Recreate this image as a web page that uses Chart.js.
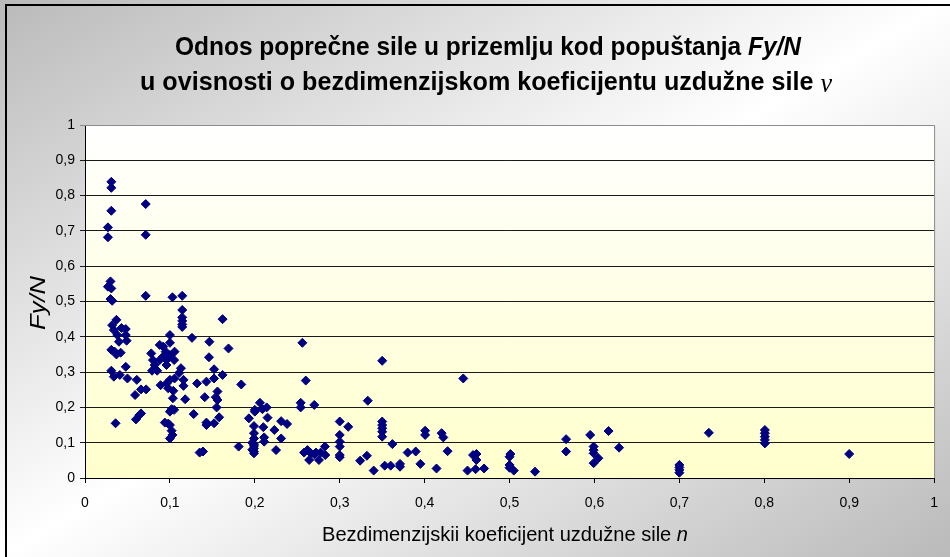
<!DOCTYPE html>
<html>
<head>
<meta charset="utf-8">
<script src="https://cdn.jsdelivr.net/npm/chart.js@4.4.1/dist/chart.umd.min.js"></script>
<style>
  html, body { margin: 0; padding: 0; background: #fff; }
  #wrap { width: 950px; height: 557px; }
</style>
</head>
<body>
<div id="wrap"><canvas id="c" width="950" height="557"></canvas></div>
<script>
// ---- data: [n, Fy/N] ----
const pointsLowN = [
  [0.031,0.839],[0.031,0.822],[0.031,0.757],[0.027,0.710],[0.027,0.682],[0.030,0.557],[0.027,0.542],[0.031,0.537],[0.030,0.507],[0.032,0.502],
  [0.037,0.448],[0.032,0.433],[0.034,0.419],[0.043,0.425],[0.048,0.422],[0.038,0.405],[0.040,0.386],[0.048,0.405],[0.049,0.389],[0.031,0.363],
  [0.035,0.358],[0.037,0.350],[0.042,0.355],[0.031,0.304],[0.034,0.287],[0.041,0.292],[0.048,0.315],[0.050,0.282],[0.036,0.155],[0.061,0.278],
  [0.059,0.235],[0.066,0.251],[0.072,0.251],[0.060,0.166],[0.066,0.183],[0.064,0.178],[0.0715,0.776],[0.0715,0.689],[0.0715,0.516]
];
const pointsMidLowN = [
  [0.078,0.353],[0.080,0.334],[0.082,0.320],[0.079,0.304],[0.085,0.304],[0.088,0.377],[0.092,0.372],[0.095,0.358],[0.092,0.344],[0.088,0.334],
  [0.096,0.334],[0.100,0.405],[0.100,0.383],[0.100,0.348],[0.1055,0.358],[0.105,0.334],[0.096,0.320],[0.089,0.263],[0.096,0.268],[0.100,0.278],
  [0.1055,0.282],[0.098,0.254],[0.104,0.247],[0.1035,0.226],[0.102,0.195],[0.105,0.193],[0.100,0.188],[0.094,0.157],[0.098,0.154],[0.100,0.150],
  [0.102,0.134],[0.103,0.122],[0.100,0.112],[0.103,0.512],[0.1145,0.516],[0.1145,0.476],[0.1145,0.455],[0.1145,0.445],[0.1145,0.435],[0.1145,0.428],
  [0.113,0.311],[0.111,0.298],[0.116,0.278],[0.116,0.261],[0.118,0.223],[0.126,0.397],[0.128,0.181],[0.132,0.268],[0.135,0.072],[0.139,0.075],
  [0.141,0.229],[0.143,0.273],[0.143,0.157],[0.143,0.150],[0.1465,0.386],[0.146,0.342],[0.152,0.308],[0.152,0.282],[0.154,0.229],[0.156,0.245],
  [0.156,0.221],[0.155,0.200],[0.152,0.155],[0.158,0.172],[0.162,0.450],[0.162,0.292],[0.169,0.367],[0.184,0.265],[0.181,0.089],[0.193,0.169],[0.200,0.188]
];
const pointsMidN = [
  [0.199,0.147],[0.199,0.127],[0.199,0.112],[0.199,0.096],[0.199,0.091],[0.199,0.084],[0.199,0.075],[0.199,0.070],[0.197,0.100],[0.197,0.080],
  [0.200,0.193],[0.206,0.213],[0.209,0.195],[0.214,0.200],[0.215,0.171],[0.210,0.144],[0.211,0.115],[0.211,0.103],[0.223,0.136],[0.225,0.079],
  [0.231,0.161],[0.238,0.153],[0.231,0.112],[0.256,0.383],[0.260,0.276],[0.254,0.213],[0.254,0.200],[0.270,0.207],
  [0.258,0.072],[0.262,0.079],[0.264,0.051],[0.266,0.070],[0.270,0.067],[0.272,0.072],[0.2755,0.051],[0.2775,0.072],[0.2825,0.089],[0.283,0.065],
  [0.300,0.160],[0.300,0.122],[0.300,0.103],[0.300,0.089],[0.300,0.065],[0.300,0.059],[0.310,0.145],[0.333,0.219],[0.324,0.049],[0.332,0.063],[0.340,0.021]
];
const pointsHighN = [
  [0.350,0.332],[0.350,0.160],[0.350,0.150],[0.350,0.141],[0.350,0.131],[0.350,0.117],[0.362,0.096],[0.353,0.035],[0.360,0.035],[0.371,0.040],[0.371,0.032],
  [0.380,0.072],[0.3895,0.075],[0.395,0.040],[0.4006,0.134],[0.4006,0.122],[0.414,0.027],[0.420,0.127],[0.422,0.115],[0.427,0.076],[0.4455,0.282],
  [0.457,0.065],[0.461,0.068],[0.461,0.051],[0.4505,0.021],[0.460,0.025],[0.470,0.027],
  [0.501,0.068],[0.500,0.060],[0.500,0.037],[0.500,0.029],[0.505,0.021],[0.530,0.018],[0.5666,0.110],[0.5666,0.075],[0.595,0.122],
  [0.599,0.089],[0.599,0.079],[0.599,0.070],[0.6046,0.056],[0.599,0.042],[0.6166,0.133],[0.629,0.086],
  [0.700,0.037],[0.700,0.030],[0.700,0.023],[0.700,0.015],[0.7347,0.128],[0.8007,0.136],[0.8007,0.127],[0.8007,0.117],[0.8007,0.108],[0.8007,0.098],[0.900,0.068]
];
const xTickLabels = ['0','0,1','0,2','0,3','0,4','0,5','0,6','0,7','0,8','0,9','1'];
const yTickLabels = ['0','0,1','0,2','0,3','0,4','0,5','0,6','0,7','0,8','0,9','1'];
const titleLine1 = ['Odnos poprečne sile u prizemlju kod popuštanja ', 'Fy/N'];
const titleLine2 = ['u ovisnosti o bezdimenzijskom koeficijentu uzdužne sile ', 'ν'];
const xAxisTitle = ['Bezdimenzijskii koeficijent uzdužne sile ', 'n'];
const yAxisTitle = 'Fy/N';

const allPoints = [].concat(pointsLowN, pointsMidLowN, pointsMidN, pointsHighN).map(p => ({x: p[0], y: p[1]}));

function drawFitted(ctx, segs, cx, baseline, targetW) {
  let total = 0;
  segs.forEach(s => { ctx.font = s.font; s.w = ctx.measureText(s.text).width; total += s.w; });
  const sx = targetW / total;
  ctx.save();
  ctx.translate(cx - targetW / 2, baseline);
  ctx.scale(sx, 1);
  let x = 0;
  ctx.fillStyle = '#000';
  ctx.textBaseline = 'alphabetic';
  ctx.textAlign = 'left';
  segs.forEach(s => { ctx.font = s.font; ctx.fillText(s.text, x + (s.dx || 0), s.dy || 0); x += s.w; });
  ctx.restore();
}

const decor = {
  id: 'decor',
  beforeDraw(chart) {
    const ctx = chart.ctx, W = chart.width, H = chart.height, a = chart.chartArea;
    ctx.save();
    ctx.setTransform(W, 0, 0, H, 0, 0);
    const g = ctx.createLinearGradient(0, 0, 1, 1);
    g.addColorStop(0, '#bababa');
    g.addColorStop(0.5, '#ffffff');
    g.addColorStop(1, '#bababa');
    ctx.fillStyle = g;
    ctx.fillRect(0, 0, 1, 1);
    ctx.restore();
    ctx.save();
    const pg = ctx.createLinearGradient(0, a.top, 0, a.bottom);
    pg.addColorStop(0, '#ffffff');
    pg.addColorStop(1, '#ffffcc');
    ctx.fillStyle = pg;
    ctx.fillRect(a.left, a.top, a.right - a.left, a.bottom - a.top);
    ctx.strokeStyle = '#000';
    ctx.lineWidth = 2;
    ctx.beginPath();
    ctx.moveTo(6, H + 2); ctx.lineTo(6, 5); ctx.lineTo(W + 2, 5);
    ctx.stroke();
    ctx.restore();
  },
  afterDraw(chart) {
    const ctx = chart.ctx, a = chart.chartArea;
    ctx.save();
    ctx.strokeStyle = '#8c8c8c';
    ctx.lineWidth = 1;
    ctx.beginPath();
    ctx.moveTo(a.left, a.top + 0.5); ctx.lineTo(a.right + 0.5, a.top + 0.5); ctx.lineTo(a.right + 0.5, a.bottom);
    ctx.stroke();
    ctx.restore();
    drawFitted(ctx, [
      {text: titleLine1[0], font: 'bold 26px "Liberation Sans", Arial, sans-serif'},
      {text: titleLine1[1], font: 'italic bold 26px "Liberation Sans", Arial, sans-serif'}
    ], 488, 55, 626);
    drawFitted(ctx, [
      {text: titleLine2[0], font: 'bold 26px "Liberation Sans", Arial, sans-serif'},
      {text: titleLine2[1], font: 'italic 27px "Liberation Serif", "DejaVu Serif", serif', dy: 2}
    ], 486, 90, 692);
    drawFitted(ctx, [
      {text: xAxisTitle[0], font: '20px "Liberation Sans", Arial, sans-serif'},
      {text: xAxisTitle[1], font: 'italic 20px "Liberation Sans", Arial, sans-serif'}
    ], 505, 541, 366);
    ctx.save();
    ctx.translate(45, 303);
    ctx.rotate(-Math.PI / 2);
    drawFitted(ctx, [
      {text: yAxisTitle, font: 'italic 22px "Liberation Sans", Arial, sans-serif'}
    ], 0, 0, 54);
    ctx.restore();
  }
};

const tickFont = {family: '"Liberation Sans", Arial, sans-serif', size: 14};

new Chart(document.getElementById('c'), {
  type: 'scatter',
  data: {
    datasets: [{
      data: allPoints,
      pointStyle: 'rectRot',
      pointRadius: 4.5,
      pointHoverRadius: 4.5,
      backgroundColor: '#000080',
      borderColor: '#000080',
      borderWidth: 1
    }]
  },
  options: {
    responsive: false,
    animation: false,
    events: [],
    layout: {padding: {top: 125, right: 12, bottom: 0, left: 0}},
    plugins: {legend: {display: false}, title: {display: false}, tooltip: {enabled: false}},
    scales: {
      x: {
        type: 'linear', min: 0, max: 1,
        afterFit: s => { s.height = 79; },
        ticks: {stepSize: 0.1, color: '#000', font: tickFont, padding: 12, maxRotation: 0, autoSkip: false,
          callback: (v, i) => xTickLabels[i]},
        grid: {drawOnChartArea: false, drawTicks: true, tickLength: 5, color: '#000'},
        border: {color: '#000', width: 1}
      },
      y: {
        type: 'linear', min: 0, max: 1,
        afterFit: s => { s.width = 85; },
        ticks: {stepSize: 0.1, color: '#000', font: tickFont, padding: 5, autoSkip: false,
          callback: (v, i) => yTickLabels[i]},
        grid: {tickLength: 5, color: ctx => (ctx.tick && ctx.tick.value >= 0.999) ? '#8c8c8c' : '#1a1a1a', lineWidth: 1},
        border: {color: '#000', width: 1}
      }
    }
  },
  plugins: [decor]
});
</script>
</body>
</html>
